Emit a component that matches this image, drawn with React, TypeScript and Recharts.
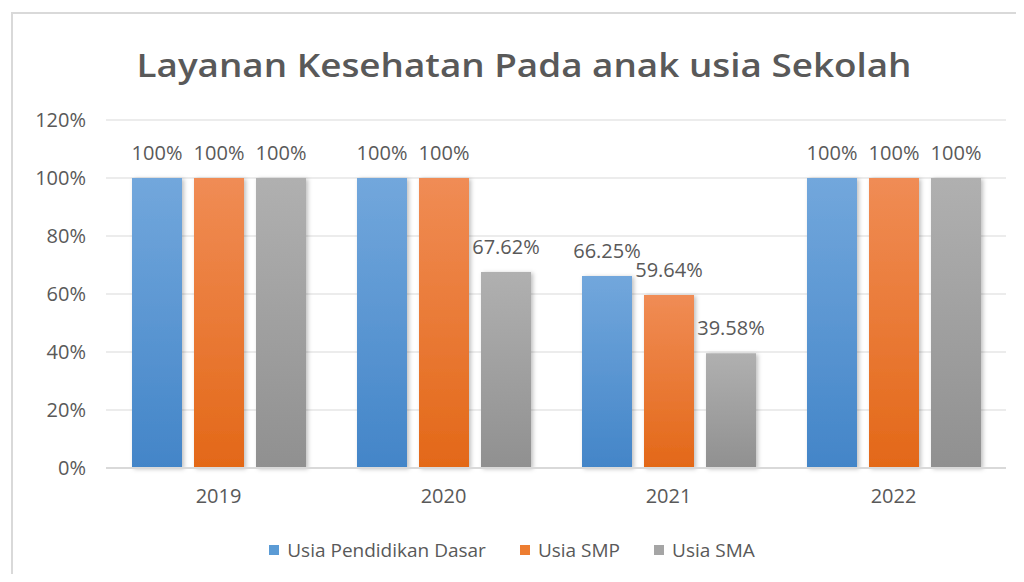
import React from "react";
import {
  BarChart,
  Bar,
  XAxis,
  YAxis,
  CartesianGrid,
  LabelList,
  Legend,
} from "recharts";

const years = ["2019", "2020", "2021", "2022"];
const dasar = [100, 100, 66.25, 100];
const smp = [100, 100, 59.64, 100];
const sma = [100, 67.62, 39.58, 100];
const dasarLabels = ["100%", "100%", "66.25%", "100%"];
const smpLabels = ["100%", "100%", "59.64%", "100%"];
const smaLabels = ["100%", "67.62%", "39.58%", "100%"];
const yTicks = [0, 20, 40, 60, 80, 100, 120];
const seriesNames = ["Usia Pendidikan Dasar", "Usia SMP", "Usia SMA"];
const legendColors = ["#5b9bd5", "#ed7d31", "#a5a5a5"];

const data = years.map((y, i) => ({
  year: y,
  dasar: dasar[i],
  smp: smp[i],
  sma: sma[i],
  dasarLabel: dasarLabels[i],
  smpLabel: smpLabels[i],
  smaLabel: smaLabels[i],
}));

const FONT = "'Open Sans', 'Noto Sans', sans-serif";
const TXT = "#595959";

const LegendContent = () => (
  <div
    style={{
      display: "flex",
      justifyContent: "center",
      alignItems: "center",
      fontFamily: FONT,
      fontSize: 19,
      color: TXT,
      height: 30,
    }}
  >
    {seriesNames.map((n, i) => (
      <div
        key={n}
        style={{ display: "flex", alignItems: "center", marginRight: i < 2 ? 34 : 0 }}
      >
        <div
          style={{
            width: 10,
            height: 10,
            background: legendColors[i],
            marginRight: 8,
          }}
        />
        <span>{n}</span>
      </div>
    ))}
  </div>
);

const labelStyle = { fontFamily: FONT, fontSize: 20, fill: TXT };

export default function App() {
  return (
    <div
      style={{
        position: "relative",
        width: 1024,
        height: 582,
        margin: -8,
        background: "#fff",
        overflow: "hidden",
      }}
    >
      <div
        style={{
          position: "absolute",
          left: 11,
          top: 12,
          width: 1040,
          height: 620,
          border: "2px solid #d9d9d9",
          boxSizing: "border-box",
        }}
      />
      <svg
        width={1024}
        height={100}
        style={{ position: "absolute", left: 0, top: 0 }}
      >
        <text
          x={524}
          y={77}
          textAnchor="middle"
          fontFamily={FONT}
          fontWeight={600}
          fontSize={33}
          fill={TXT}
          textLength={775}
          lengthAdjust="spacingAndGlyphs"
        >
          Layanan Kesehatan Pada anak usia Sekolah
        </text>
      </svg>
      <div style={{ position: "absolute", left: 0, top: 0 }}>
        <BarChart
          width={1024}
          height={582}
          data={data}
          margin={{ top: 120, right: 18, left: 0, bottom: 0 }}
          barSize={50}
          barGap={12}
        >
          <defs>
            <linearGradient id="gBlue" x1="0" y1="0" x2="0" y2="1">
              <stop offset="0%" stopColor="#72a7dc" />
              <stop offset="100%" stopColor="#4385c8" />
            </linearGradient>
            <linearGradient id="gOrange" x1="0" y1="0" x2="0" y2="1">
              <stop offset="0%" stopColor="#f08c55" />
              <stop offset="100%" stopColor="#e36818" />
            </linearGradient>
            <linearGradient id="gGray" x1="0" y1="0" x2="0" y2="1">
              <stop offset="0%" stopColor="#b0b0b0" />
              <stop offset="100%" stopColor="#909090" />
            </linearGradient>
            <filter id="shadow" x="-20%" y="-10%" width="150%" height="130%">
              <feDropShadow dx="2" dy="1" stdDeviation="2" floodColor="#000" floodOpacity="0.25" />
            </filter>
          </defs>
          <CartesianGrid vertical={false} stroke="#d9d9d9" strokeWidth={1} />
          <XAxis
            dataKey="year"
            axisLine={{ stroke: "#d9d9d9", strokeWidth: 2 }}
            tickLine={false}
            tickMargin={15}
            height={84}
            tick={{ fontFamily: FONT, fontSize: 20, fill: TXT }}
          />
          <YAxis
            domain={[0, 120]}
            ticks={yTicks}
            interval={0}
            width={106}
            axisLine={false}
            tickLine={false}
            tickMargin={14}
            tickFormatter={(v: number) => `${v}%`}
            tick={{ fontFamily: FONT, fontSize: 20, fill: TXT }}
          />
          <Legend
            verticalAlign="bottom"
            height={30}
            content={<LegendContent />}
            wrapperStyle={{ bottom: 17, left: 0, width: 1024 }}
          />
          <Bar
            dataKey="dasar"
            name={seriesNames[0]}
            fill="url(#gBlue)"
            filter="url(#shadow)"
            isAnimationActive={false}
          >
            <LabelList dataKey="dasarLabel" position="top" offset={18} style={labelStyle} />
          </Bar>
          <Bar
            dataKey="smp"
            name={seriesNames[1]}
            fill="url(#gOrange)"
            filter="url(#shadow)"
            isAnimationActive={false}
          >
            <LabelList dataKey="smpLabel" position="top" offset={18} style={labelStyle} />
          </Bar>
          <Bar
            dataKey="sma"
            name={seriesNames[2]}
            fill="url(#gGray)"
            filter="url(#shadow)"
            isAnimationActive={false}
          >
            <LabelList dataKey="smaLabel" position="top" offset={18} style={labelStyle} />
          </Bar>
        </BarChart>
      </div>
    </div>
  );
}
